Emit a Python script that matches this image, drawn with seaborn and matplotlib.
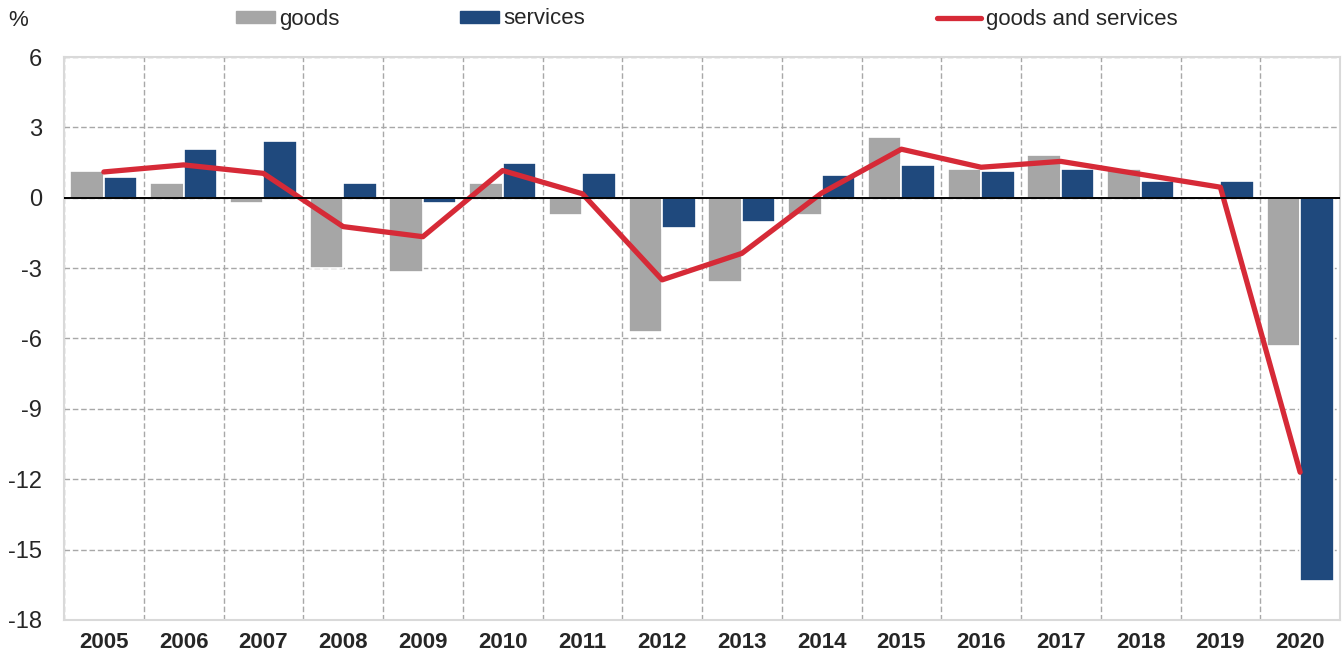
import numpy as np
import pandas as pd
import matplotlib
matplotlib.use("Agg")
import matplotlib.pyplot as plt
import matplotlib.patches as mpatches
import matplotlib.lines as mlines
import seaborn as sns

# chart values (annual % change)
years = [str(y) for y in range(2005, 2021)]
goods = [1.15, 0.62, -0.22, -3.0, -3.17, 0.62, -0.72, -5.72, -3.6, -0.72,
         2.6, 1.23, 1.82, 1.22, 0.0, -6.32]
services = [0.88, 2.09, 2.43, 0.62, -0.22, 1.48, 1.05, -1.3, -1.05, 0.96,
            1.41, 1.15, 1.23, 0.72, 0.72, -16.35]
total = [1.1, 1.4, 1.04, -1.23, -1.66, 1.16, 0.17, -3.5, -2.37, 0.2,
         2.07, 1.3, 1.55, 1.0, 0.45, -11.7]
yticks = [-18, -15, -12, -9, -6, -3, 0, 3, 6]

GREY = "#A6A6A6"
BLUE = "#1F497D"
RED = "#D62A37"

sns.set_theme(style="white")
plt.rcParams["font.family"] = ["Liberation Sans Narrow", "Liberation Sans", "DejaVu Sans"]

df = pd.DataFrame({
    "year": years * 2,
    "value": goods + services,
    "series": ["goods"] * len(years) + ["services"] * len(years),
})

fig = plt.figure(figsize=(13.44, 6.57), dpi=100)
ax = fig.add_axes([64 / 1344, 1 - 620 / 657, 1276 / 1344, 563 / 657])

sns.barplot(data=df, x="year", y="value", hue="series",
            palette={"goods": GREY, "services": BLUE}, saturation=1,
            width=0.84, edgecolor="white", linewidth=1.2,
            legend=False, ax=ax, zorder=3)
sns.lineplot(x=np.arange(len(years)), y=total, color=RED, linewidth=3.8,
             ax=ax, zorder=4, solid_capstyle="round")

ax.set_xlim(-0.5, len(years) - 0.5)
ax.set_ylim(-18, 6)
ax.set_yticks(yticks)
ax.set_yticklabels([str(t) for t in yticks], fontsize=17)
ax.set_xticks(np.arange(len(years)))
ax.set_xticklabels(years, fontsize=16, fontweight="bold")
ax.set_xticks(np.arange(len(years) + 1) - 0.5, minor=True)
ax.tick_params(axis="x", which="both", length=0, pad=9)
ax.tick_params(axis="y", length=0, pad=16)
ax.set_xlabel("")
ax.set_ylabel("")

ax.grid(axis="y", which="major", color="#A8A8A8", linestyle=(0, (4, 2)), linewidth=1.0, zorder=0)
ax.grid(axis="x", which="minor", color="#A8A8A8", linestyle=(0, (4, 2)), linewidth=1.0, zorder=0)
ax.grid(axis="x", which="major", visible=False)
ax.axhline(0, color="black", linewidth=1.4, zorder=5)

for s in ax.spines.values():
    s.set_color("#D9D9D9")
    s.set_linewidth(1.5)

fig.text(8 / 1344, 1 - 20 / 657, "%", fontsize=16, va="center", ha="left")

# legend entries spread across the top
entries = [
    (mpatches.Patch(color=GREY), "goods", 236, 1.75),
    (mpatches.Patch(color=BLUE), "services", 460, 1.75),
    (mlines.Line2D([], [], color=RED, linewidth=3.8), "goods and services", 937, 2.0),
]
for handle, label, xpx, hl in entries:
    fig.legend([handle], [label], loc="center left",
               bbox_to_anchor=(xpx / 1344, 1 - 19 / 657),
               frameon=False, fontsize=16, handlelength=hl, handleheight=0.45,
               handletextpad=0.2, borderpad=0, borderaxespad=0)

fig.savefig("out.png", dpi=100)
